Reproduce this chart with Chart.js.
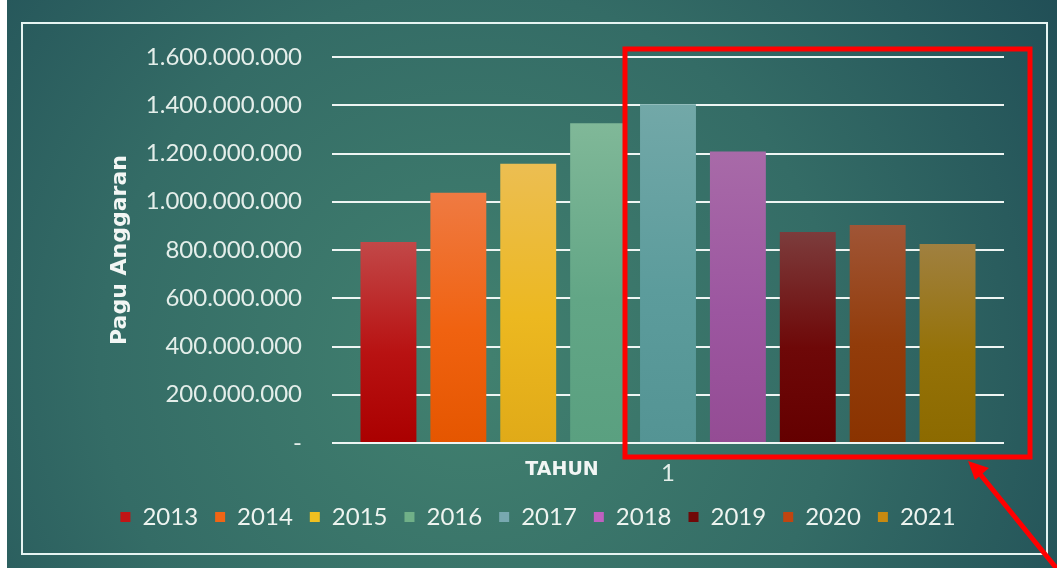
<!DOCTYPE html>
<html>
<head>
<meta charset="utf-8">
<script src="https://cdn.jsdelivr.net/npm/chart.js@4"></script>
<style>
  html, body { margin: 0; padding: 0; background: #fff; }
  #wrap { width: 1057px; height: 568px; }
</style>
</head>
<body>
<div id="wrap"><canvas id="myChart" width="1057" height="568"></canvas></div>
<script>
const ctx = document.getElementById("myChart").getContext("2d");

// data
const categories = ["1"];
const years = ["2013", "2014", "2015", "2016", "2017", "2018", "2019", "2020", "2021"];
const pagu = [833000000, 1037000000, 1158000000, 1325000000, 1404000000, 1208000000, 875000000, 904000000, 825000000];
const yTicks = [0, 200000000, 400000000, 600000000, 800000000, 1000000000, 1200000000, 1400000000, 1600000000];

// colours (top of bar, middle, bottom of bar, legend swatch)
const topColors = ["#c24848", "#ef7a42", "#ecbe52", "#80b898", "#72a8a8", "#a86aa8", "#7c3c3c", "#a05536", "#a08040"];
const midColors = ["#b81212", "#f06210", "#ecb820", "#62a686", "#5c9c9c", "#9c56a0", "#6e0808", "#923c0a", "#957208"];
const bottomColors = ["#aa0000", "#e55600", "#e0aa18", "#5aa080", "#549494", "#944c94", "#640000", "#8a3300", "#8c6a00"];
const legendColors = ["#c01515", "#f06515", "#f0c020", "#70b088", "#78a8b0", "#c060c0", "#700808", "#c04510", "#c88a10"];

const fmt = (v) => {
	if (v === 0) return "-";
	return String(v).replace(/\B(?=(\d{3})+(?!\d))/g, ".");
};

const barFill = (i) => (c) => {
	const chart = c.chart;
	const area = chart.chartArea;
	if (!area) return bottomColors[i];
	const y = chart.scales.y;
	const top = y.getPixelForValue(pagu[i]);
	const g = chart.ctx.createLinearGradient(0, top, 0, area.bottom);
	g.addColorStop(0, topColors[i]);
	g.addColorStop(0.55, midColors[i]);
	g.addColorStop(1, bottomColors[i]);
	return g;
};

const datasets = years.map((yr, i) => ({
	label: yr,
	data: [pagu[i]],
	backgroundColor: barFill(i),
	borderWidth: 0,
	barPercentage: 0.8,
	categoryPercentage: 0.936
}));

const background = {
	id: "background",
	beforeDraw(chart) {
		const c = chart.ctx;
		const w = chart.width, h = chart.height;
		c.save();
		c.fillStyle = "#2a5c5e";
		c.fillRect(0, 0, w, h);
		const g = c.createRadialGradient(470, 360, 20, 470, 360, 720);
		g.addColorStop(0, "#41806f");
		g.addColorStop(0.5, "#346c66");
		g.addColorStop(1, "#1f4c55");
		c.fillStyle = g;
		c.fillRect(0, 0, w, h);
		c.fillStyle = "#ffffff";
		c.fillRect(0, 0, 7, h);
		// white frame
		c.strokeStyle = "#e6f4f2";
		c.lineWidth = 2;
		c.strokeRect(22, 23, 1025, 531);
		c.restore();
	},
	afterDraw(chart) {
		const c = chart.ctx;
		c.save();
		// x axis title, sits left of the category label
		c.fillStyle = "#f2f6f4";
		c.font = "bold 19px 'DejaVu Sans'";
		c.textAlign = "center";
		c.textBaseline = "middle";
		c.fillText("TAHUN", 562, 470);
		// red highlight box + arrow
		c.strokeStyle = "#ff0000";
		c.lineWidth = 5;
		c.strokeRect(625, 49, 405, 408);
		c.beginPath();
		c.moveTo(1062, 575);
		c.lineTo(980, 474);
		c.stroke();
		c.fillStyle = "#ff0000";
		c.beginPath();
		c.moveTo(968, 461);
		c.lineTo(989, 468);
		c.lineTo(975, 480);
		c.closePath();
		c.fill();
		c.restore();
	}
};

const chart = new Chart(ctx, {
	type: "bar",
	data: {
		labels: categories,
		datasets: datasets
	},
	plugins: [background],
	options: {
		responsive: false,
		animation: false,
		layout: {
			padding: { left: 72, right: 53, top: 57, bottom: 29 }
		},
		plugins: {
			tooltip: { enabled: false },
			legend: {
				position: "bottom",
				labels: {
					color: "#eef4f0",
					font: { family: "Lato", size: 24 },
					boxWidth: 10,
					boxHeight: 10,
					padding: 17,
					generateLabels: (ch) => ch.data.datasets.map((ds, i) => ({
						text: ds.label,
						fillStyle: legendColors[i],
						strokeStyle: legendColors[i],
						lineWidth: 0,
						fontColor: "#eef4f0",
						datasetIndex: i
					}))
				}
			}
		},
		scales: {
			x: {
				grid: { display: false, drawTicks: false },
				border: { display: false },
				ticks: {
					color: "#e4eeea",
					font: { family: "Lato", size: 24 },
					padding: 16
				},
				afterFit: (scale) => { scale.height = 45; }
			},
			y: {
				min: 0,
				max: 1600000000,
				afterBuildTicks: (scale) => { scale.ticks = yTicks.map(v => ({ value: v })); },
				grid: {
					color: "#eef5f3",
					lineWidth: 2,
					drawTicks: false
				},
				border: { display: false },
				ticks: {
					color: "#e4eeea",
					font: { family: "Lato", size: 24 },
					padding: 30,
					callback: (v) => fmt(v)
				},
				title: {
					display: true,
					text: "Pagu Anggaran",
					color: "#f2f6f4",
					font: { family: "DejaVu Sans", size: 22, weight: "bold" },
					padding: { top: 35, bottom: 0 }
				},
				afterFit: (scale) => { scale.width = 260; }
			}
		}
	}
});
</script>
</body>
</html>
